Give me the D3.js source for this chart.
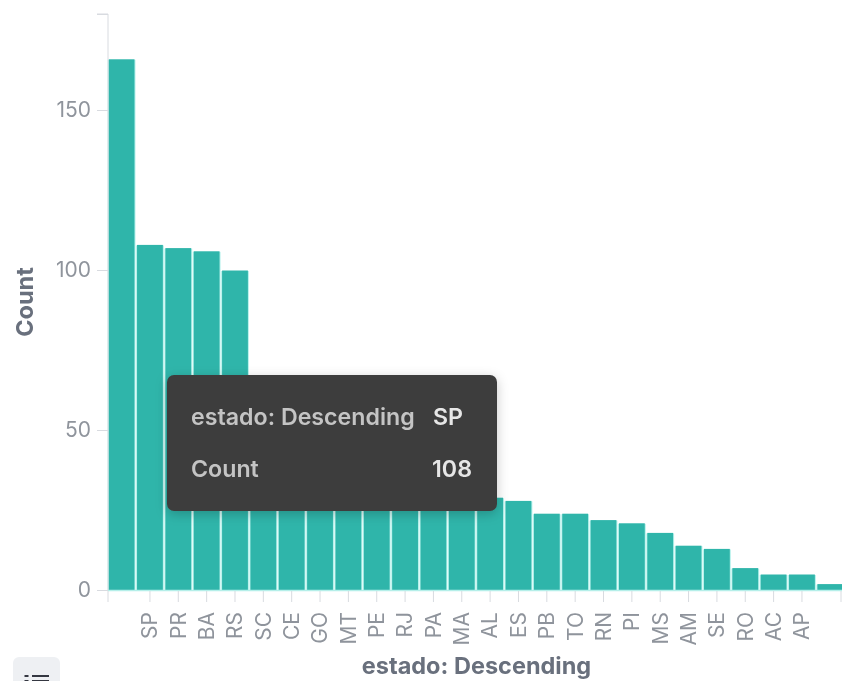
<!DOCTYPE html>
<html>
<head>
<meta charset="utf-8">
<script src="https://cdn.jsdelivr.net/npm/d3@7"></script>
<style>
  html, body { margin: 0; padding: 0; background: #fff; overflow: hidden; }
  svg { display: block; font-family: Inter, "Noto Sans", sans-serif; filter: blur(0.45px); }
</style>
</head>
<body>
<svg width="842" height="681"></svg>
<script>
// the first and last columns have no label in the picture
const categories = ["", "SP", "PR", "BA", "RS", "SC", "CE", "GO", "MT", "PE", "RJ", "PA", "MA",
  "AL", "ES", "PB", "TO", "RN", "PI", "MS", "AM", "SE", "RO", "AC", "AP", ""];
const counts = [166, 108, 107, 106, 100, 62, 55, 50, 44, 40, 36, 33, 31,
  29, 28, 24, 24, 22, 21, 18, 14, 13, 7, 5, 5, 2];
const yTicks = [0, 50, 100, 150];
const yMax = 180;
const xTitle = "estado: Descending";
const yTitle = "Count";
const tooltipRows = [["estado: Descending", "SP"], ["Count", "108"]];

const svg = d3.select("svg");
const plotLeft = 108, plotRight = 842, plotTop = 14, plotBottom = 590;

// the last band runs slightly past the edge of the picture
const x = d3.scaleBand().domain(d3.range(categories.length)).range([108.7, 843.2]).paddingInner(0.09);
const y = d3.scaleLinear().domain([0, yMax]).range([plotBottom, plotTop]);

const shadow = svg.append("defs").append("filter").attr("id", "shadow")
  .attr("x", "-10%").attr("y", "-15%").attr("width", "120%").attr("height", "130%");
shadow.append("feDropShadow").attr("dx", 0).attr("dy", 3).attr("stdDeviation", 6)
  .attr("flood-color", "#000").attr("flood-opacity", 0.22);

// pale halo that shows in the gaps between the bars
svg.append("g").selectAll("rect").data(counts).join("rect")
  .attr("x", (d, i) => x(i) - 1)
  .attr("y", d => y(d) + 1)
  .attr("width", x.bandwidth() + 2)
  .attr("height", d => plotBottom - y(d) - 1)
  .attr("fill", "#b4f1eb");

// bars
svg.append("g").selectAll("rect").data(counts).join("rect")
  .attr("x", (d, i) => x(i))
  .attr("y", d => y(d) + 0.5)
  .attr("width", x.bandwidth())
  .attr("height", d => plotBottom - y(d) - 0.5)
  .attr("fill", "#2fb5aa");

// light line under the bars
svg.append("line").attr("x1", plotLeft).attr("x2", plotRight).attr("y1", plotBottom + 0.5).attr("y2", plotBottom + 0.5)
  .attr("stroke", "#b5efe9").attr("stroke-width", 1.5);

// y axis
const yAxis = svg.append("g").attr("transform", `translate(${plotLeft},0)`)
  .call(d3.axisLeft(y).tickValues(d3.merge([yTicks, [yMax]])).tickFormat(d => yTicks.includes(d) ? d : "").tickSize(11).tickPadding(6));
yAxis.select(".domain").attr("stroke", "#d8dbe0").attr("d", `M-11,${y(yMax)}H0V${plotBottom}`);
yAxis.selectAll(".tick line").attr("stroke", "#d8dbe0");
yAxis.selectAll(".tick text").attr("fill", "#8f949c").attr("font-size", 21).attr("font-family", "Inter");

// x axis
const xAxis = svg.append("g").attr("transform", `translate(0,${plotBottom + 1})`)
  .call(d3.axisBottom(x).tickFormat(i => categories[i]).tickSize(11).tickPadding(6));
xAxis.select(".domain").remove();
xAxis.selectAll(".tick line").attr("stroke", "#d8dbe0");
xAxis.selectAll(".tick").filter(i => i === 0).attr("transform", `translate(${plotLeft},0)`);
xAxis.selectAll(".tick").filter(i => i === categories.length - 1).attr("transform", `translate(${plotRight - 1},0)`);
xAxis.selectAll(".tick text")
  .attr("fill", "#8f949c").attr("font-size", 21).attr("font-family", "Inter")
  .attr("text-anchor", "end").attr("dy", "0.35em")
  .attr("transform", "rotate(-90)").attr("x", -21).attr("y", 0);

// axis titles
svg.append("text").attr("x", 476.5).attr("y", 674).attr("text-anchor", "middle")
  .attr("font-size", 23.5).attr("font-weight", 700).attr("fill", "#69707d").text(xTitle);
svg.append("text").attr("transform", "translate(33,302) rotate(-90)").attr("text-anchor", "middle")
  .attr("font-size", 23.5).attr("font-weight", 700).attr("fill", "#69707d").text(yTitle);

// legend toggle button, cut off by the bottom of the picture
const button = svg.append("g");
button.append("rect").attr("x", 13).attr("y", 657).attr("width", 47).attr("height", 40).attr("rx", 6).attr("fill", "#eef0f3");
button.append("path").attr("d", "M24.5,676h4M32,676h17M24.5,681h4M32,681h17").attr("stroke", "#343741").attr("stroke-width", 2.2);

// tooltip
const tip = svg.append("g");
tip.append("rect").attr("x", 167).attr("y", 375).attr("width", 330).attr("height", 136).attr("rx", 7)
  .attr("fill", "#3e3e3e").attr("filter", "url(#shadow)");
const rowY = d3.scalePoint().domain(d3.range(tooltipRows.length)).range([425, 477]);
tooltipRows.forEach((row, i) => {
  tip.append("text").attr("x", 191).attr("y", rowY(i)).attr("font-size", 23.2).attr("font-weight", 600)
    .attr("fill", "#c4c4c4").text(row[0]);
  tip.append("text").attr("x", i === 0 ? 433 : 472).attr("y", rowY(i)).attr("text-anchor", i === 0 ? "start" : "end")
    .attr("font-size", 23.2).attr("font-weight", 600).attr("fill", "#e6e6e6").text(row[1]);
});
</script>
</body>
</html>
